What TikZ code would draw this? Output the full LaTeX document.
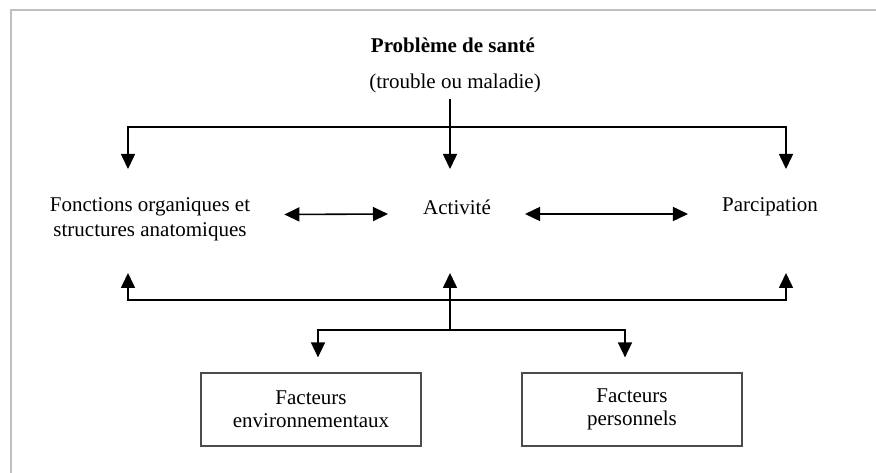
\documentclass[tikz,border=0pt]{standalone}
\usepackage{fontspec}
\setmainfont{Liberation Serif}
\usetikzlibrary{arrows.meta}

\tikzset{
  txt/.style={font=\fontsize{21}{25}\selectfont, align=center, inner sep=0pt},
  facteur/.style={txt, draw=black!70, line width=1.2pt, minimum width=220pt, minimum height=73pt, font=\fontsize{21}{23}\selectfont},
  fleche/.style={line width=1.6pt, -{Triangle[length=15pt,width=14pt]}},
  doublefleche/.style={line width=1.6pt, {Triangle[length=15pt,width=14pt]}-{Triangle[length=15pt,width=14pt]}}
}

\begin{document}
\begin{tikzpicture}[x=1pt, y=-1pt]
    \useasboundingbox (0,0) rectangle (876,473);
    \draw[gray!50, line width=2.5pt] (876,10) -- (11,10) -- (11,473);

    \node[txt, font=\fontsize{21}{25}\selectfont\bfseries] (titre) at (453,45) {Problème de santé};
    \node[txt] (trouble) at (455,83) {(trouble ou maladie)};

    \node[txt] (fonc) at (150,219.5) {Fonctions organiques et\\structures anatomiques};
    \node[txt] (act)  at (457,207) {Activité};
    \node[txt] (part) at (770,207) {Parcipation};

    \node[facteur] (env)  at (311,409.5) {Facteurs\\environnementaux};
    \node[facteur] (pers) at (632,409.5) {Facteurs\\personnels};

    % points de jonction
    \coordinate (haut) at (450,127);
    \coordinate (bas)  at (450,300);
    \coordinate (fact) at (450,330);
    \coordinate (fonc haut) at (128,169);
    \coordinate (act haut)  at (450,169);
    \coordinate (part haut) at (786,169);
    \coordinate (fonc bas)  at (128,273);
    \coordinate (act bas)   at (450,273);
    \coordinate (part bas)  at (786,273);

    \draw[fleche] ([yshift=-6pt]trouble.south -| haut) -- (act haut);
    \draw[fleche] (haut) -| (fonc haut);
    \draw[fleche] (haut) -| (part haut);

    \draw[doublefleche] ([shift={(34,-5)}]fonc.east) -- ([shift={(-35,7)}]act.west);
    \draw[doublefleche] ([shift={(34,7)}]act.east) -- ([shift={(-34,7)}]part.west);

    \draw[fleche] (fact) -- (act bas);
    \draw[fleche] (bas) -| (fonc bas);
    \draw[fleche] (bas) -| (part bas);

    \draw[fleche, shorten >=15pt] (fact) -| ([xshift=7pt]env.north);
    \draw[fleche, shorten >=15pt] (fact) -| ([xshift=-7pt]pers.north);
\end{tikzpicture}
\end{document}
